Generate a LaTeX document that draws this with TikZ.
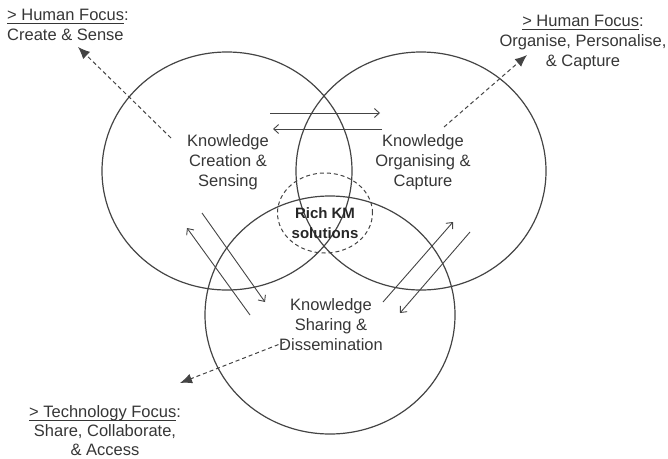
\documentclass[tikz,border=0pt]{standalone}
\usepackage{fontspec}
\setmainfont{Liberation Sans}
\usetikzlibrary{arrows.meta,shapes.geometric}
\definecolor{ink}{HTML}{444444}
\definecolor{txt}{HTML}{363636}
\newcommand\ulin[1]{\setbox0\hbox{#1}\rlap{\rule[-3.8pt]{\wd0}{0.9pt}}\box0}
\begin{document}
\begin{tikzpicture}[x=1pt,y=-1pt,
 circ/.style={draw=ink, line width=1.2pt, ellipse, minimum width=250pt, minimum height=238pt, inner sep=0pt},
 core/.style={draw=ink, line width=1pt, dash pattern=on 4pt off 3pt, ellipse, minimum width=95pt, minimum height=80pt, inner sep=0pt},
 lab/.style={text=txt, font=\fontsize{16.5}{20}\selectfont, align=center, inner sep=0pt},
 rich/.style={text=black!85, font=\bfseries\fontsize{15}{20}\selectfont, align=center, inner sep=0pt},
 flow/.style={draw=ink, line width=0.9pt, -{Straight Barb[length=5pt,width=9pt]}},
 focus/.style={draw=ink, line width=1pt, dash pattern=on 4pt off 3pt, -{Latex[length=12pt,width=10pt]}},
]
\useasboundingbox (0,0) rectangle (668,458);
% circles
\node[circ] (cL) at (227,171) {};
\node[circ] (cR) at (421,171) {};
\node[circ] (cB) at (330,315) {};
\node[core] (cC) at (325,213) {};
% labels
\node[lab] (tL) at (228,162) {Knowledge\\Creation \&\\Sensing};
\node[lab] (tR) at (423,162) {Knowledge\\Organising \&\\Capture};
\node[lab] (tB) at (331,325) {Knowledge\\Sharing \&\\Dissemination};
\node[rich] (tC) at (325,223) {Rich KM\\solutions};
% focus labels
\node[lab, align=left, anchor=north west] (fL) at (7,8.5) {\ulin{> Human Focus}:\\Create \& Sense};
\node[lab, anchor=north] (fR) at (583,14.5) {\ulin{> Human Focus}:\\Organise, Personalise,\\\& Capture};
\node[lab, anchor=north, font=\fontsize{16.5}{19}\selectfont] (fB) at (105,405) {\ulin{> Technology Focus}:\\Share, Collaborate,\\\& Access};
% flow arrows
\coordinate (a1) at (270,113); \coordinate (a2) at (380,113);
\coordinate (b1) at (382,129); \coordinate (b2) at (273,129);
\coordinate (c1) at (202,213); \coordinate (c2) at (265,302);
\coordinate (d1) at (250,315); \coordinate (d2) at (187,228);
\coordinate (e1) at (383,302); \coordinate (e2) at (453,222);
\coordinate (f1) at (470,232); \coordinate (f2) at (400,313);
\draw[flow] (a1) -- (a2);
\draw[flow] (b1) -- (b2);
\draw[flow] (c1) -- (c2);
\draw[flow] (d1) -- (d2);
\draw[flow] (e1) -- (e2);
\draw[flow] (f1) -- (f2);
% focus arrows
\coordinate (g1) at (171,138); \coordinate (g2) at (78,47);
\coordinate (h1) at (444,127); \coordinate (h2) at (527,55);
\coordinate (k1) at (285,342); \coordinate (k2) at (180,383);
\draw[focus] (g1) -- (g2);
\draw[focus] (h1) -- (h2);
\draw[focus] (k1) -- (k2);
\end{tikzpicture}
\end{document}
